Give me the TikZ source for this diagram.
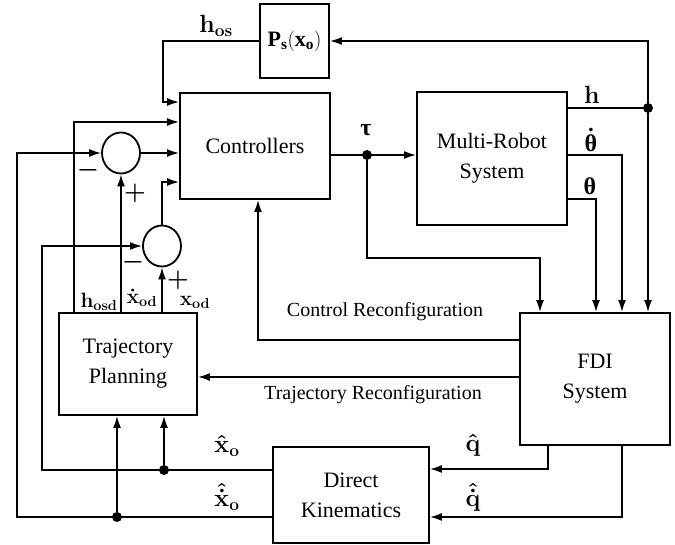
\documentclass[tikz,border=0pt]{standalone}
\usepackage{amsmath}
\usepackage{amssymb}
\usepackage{fontspec}
\setmainfont{Liberation Serif}
\usetikzlibrary{arrows.meta}
\usetikzlibrary{shapes.geometric}

\newcommand{\grk}[1]{\text{\bfseries #1}}

\tikzset{
  blk/.style={draw, line width=1.8pt, inner sep=0pt, align=center,
    font=\fontsize{22}{30}\selectfont},
  sumnode/.style={draw, ellipse, line width=1.8pt, inner sep=0pt,
    minimum width=38pt, minimum height=41pt},
  dot/.style={circle, fill, inner sep=0pt, minimum size=10pt},
  lbl/.style={inner sep=0pt, font=\fontsize{24}{28}\selectfont\boldmath},
  slbl/.style={inner sep=0pt, font=\fontsize{20}{24}\selectfont\boldmath},
  txt/.style={inner sep=0pt, font=\fontsize{20}{24}\selectfont},
  arr/.style={line width=1.8pt, -{Latex[length=12pt,width=8pt]}},
  ln/.style={line width=1.8pt}
}

\begin{document}
\begin{tikzpicture}[x=1pt,y=-1pt]
\useasboundingbox (0,0) rectangle (675,545);

\node[blk, minimum width=69pt, minimum height=74pt] (ps) at (294.5,41) {$\mathbf{P_s(x_o)}$};
\node[blk, minimum width=150pt, minimum height=106pt] (ctrl) at (255,146) {Controllers};
\node[blk, minimum width=150pt, minimum height=133pt] (mrs) at (492,158.5) {Multi-Robot\\System};
\node[blk, minimum width=150pt, minimum height=132pt] (fdi) at (595,379) {FDI\\System};
\node[blk, minimum width=138pt, minimum height=102pt] (traj) at (128,364) {Trajectory\\Planning};
\node[blk, minimum width=156pt, minimum height=96pt] (dk) at (351,495) {Direct\\Kinematics};

\node[sumnode] (sum1) at (121,153) {};
\node[sumnode] (sum2) at (162,246) {};

\node[dot] (tauj) at (367,155) {};
\node[dot] (hj) at (648,108) {};
\node[dot] (xj) at (164,470) {};
\node[dot] (xdj) at (117,517) {};

\coordinate (hb) at (163,102);
\coordinate (hd) at (74,122);
\coordinate (c3) at (162,182);
\coordinate (lo) at (17,517);
\coordinate (lo2) at (42,470);
\coordinate (cr) at (258,340);
\coordinate (tr) at (0,377);
\coordinate (tb) at (540,258);
\coordinate (td) at (622,155);
\coordinate (tt) at (596,199);
\coordinate (qa) at (548,469);
\coordinate (qb) at (622,517);

% inputs of the controllers
\draw[arr] (ps.west) -| (hb) -- (ctrl.west |- hb);
\draw[arr] (traj.north -| hd) |- (ctrl.west |- hd);
\draw[arr] (sum1.east) -- (ctrl.west |- sum1);
\draw[arr] (sum2.north) |- (ctrl.west |- c3);
\draw[arr] (traj.north -| sum1) -- (sum1.south);
\draw[arr] (traj.north -| sum2) -- (sum2.south);

% feedback from direct kinematics
\draw[arr] (dk.west |- xdj) -- (lo) |- (sum1.west);
\draw[arr] (dk.west |- xj) -- (lo2) |- (sum2.west);
\draw[arr] (xdj) -- (traj.south -| xdj);
\draw[arr] (xj) -- (traj.south -| xj);

% robot and fdi
\draw[arr] (ctrl.east |- tauj) -- (mrs.west |- tauj);
\draw[arr] (tauj) |- (tb) -- (fdi.north -| tb);
\draw[ln] (mrs.east |- hj) -- (hj);
\draw[arr] (hj) |- (ps.east);
\draw[arr] (hj) -- (fdi.north -| hj);
\draw[arr] (mrs.east |- td) -| (fdi.north -| td);
\draw[arr] (mrs.east |- tt) -| (fdi.north -| tt);
\draw[arr] (fdi.west |- cr) -| (ctrl.south -| cr);
\draw[arr] (fdi.west |- tr) -- (traj.east |- tr);
\draw[arr] (fdi.south -| qa) |- (dk.east |- qa);
\draw[arr] (fdi.south -| qb) |- (dk.east |- qb);

\node[lbl] (lhos) at (216,26) {$\mathbf{h_{os}}$};
\node[lbl] (ltau) at (366,130) {$\grk{τ}$};
\node[lbl] (lh) at (592,95) {$\mathbf{h}$};
\node[lbl] (lthd) at (591,140) {$\dot{\grk{θ}}$};
\node[lbl] (lth) at (590,186) {$\grk{θ}$};
\node[lbl] (lm1) at (88,170) {$\boldsymbol{-}$};
\node[lbl] (lp1) at (135,193) {$\boldsymbol{+}$};
\node[lbl] (lm2) at (133,262) {$\boldsymbol{-}$};
\node[lbl] (lp2) at (178,280) {$\boldsymbol{+}$};
\node[slbl] (lhosd) at (99,302) {$\mathbf{h_{osd}}$};
\node[slbl] (lxdod) at (142,298) {$\dot{\mathbf{x}}_{\mathbf{od}}$};
\node[slbl] (lxod) at (195,302) {$\mathbf{x_{od}}$};
\node[lbl] (lxo) at (227,446) {$\hat{\mathbf{x}}_{\mathbf{o}}$};
\node[lbl] (lxdo) at (227,497) {$\hat{\dot{\mathbf{x}}}_{\mathbf{o}}$};
\node[lbl] (lq) at (473,445) {$\hat{\mathbf{q}}$};
\node[lbl] (lqd) at (473,497) {$\hat{\dot{\mathbf{q}}}$};
\node[txt] (lcr) at (385,312) {Control Reconfiguration};
\node[txt] (ltr) at (373,395) {Trajectory Reconfiguration};
\end{tikzpicture}
\end{document}
